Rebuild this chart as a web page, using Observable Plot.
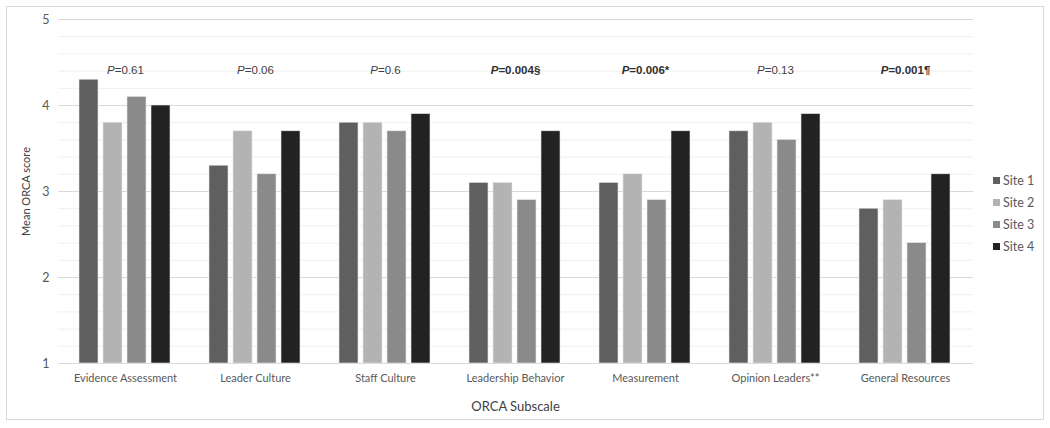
<!DOCTYPE html>
<html>
<head>
<meta charset="utf-8">
<script src="https://cdn.jsdelivr.net/npm/d3@7"></script>
<script src="https://cdn.jsdelivr.net/npm/@observablehq/plot@0.6"></script>
<style>
  html, body { margin: 0; padding: 0; background: #fff; }
  #box { position: absolute; left: 6px; top: 6px; width: 1036px; height: 412px; border: 1px solid #d9d9d9; background: #fff; }
  #grid, #chart { position: absolute; left: 0; top: 0; }
  #legend { position: absolute; left: 986px; top: 162px; font-family: Lato, "Noto Sans", sans-serif; font-size: 12.5px; color: #595959; }
  #legend .item { display: flex; align-items: center; height: 22px; }
  #legend .item span { color: #595959; }
  #legend .sw { width: 7px; height: 7px; margin-right: 3px; }
</style>
</head>
<body>
<div id="box"><div id="grid"></div><div id="chart"></div><div id="legend"></div></div>
<script>
const categories = ["Evidence Assessment", "Leader Culture", "Staff Culture", "Leadership Behavior", "Measurement", "Opinion Leaders**", "General Resources"];
const sites = ["Site 1", "Site 2", "Site 3", "Site 4"];
const site1 = [4.3, 3.3, 3.8, 3.1, 3.1, 3.7, 2.8];
const site2 = [3.8, 3.7, 3.8, 3.1, 3.2, 3.8, 2.9];
const site3 = [4.1, 3.2, 3.7, 2.9, 2.9, 3.6, 2.4];
const site4 = [4.0, 3.7, 3.9, 3.7, 3.7, 3.9, 3.2];
const pLabels = ["P=0.61", "P=0.06", "P=0.6", "P=0.004§", "P=0.006*", "P=0.13", "P=0.001¶"];
const pBold = [false, false, false, true, true, false, true];
const siteColors = ["#5f5f5f", "#b3b3b3", "#8a8a8a", "#222222"];
const yTicks = [1, 2, 3, 4, 5];
const minorTicks = [1.2, 1.4, 1.6, 1.8, 2.2, 2.4, 2.6, 2.8, 3.2, 3.4, 3.6, 3.8, 4.2, 4.4, 4.6, 4.8];

const seriesValues = [site1, site2, site3, site4];
const rows = [];
categories.forEach((c, i) => sites.forEach((s, j) => rows.push({cat: c, site: s, value: seriesValues[j][i]})));
const pRows = categories.map((c, i) => ({cat: c, text: pLabels[i], bold: pBold[i]}));

const W = 1036, H = 412;
const margins = {marginLeft: 51, marginRight: 70, marginTop: 12, marginBottom: 56};

// background gridlines spanning the whole plot area (same y scale)
const grid = Plot.plot({
  width: W, height: H, ...margins,
  style: {background: "transparent"},
  y: {domain: [1, 5], axis: null},
  marks: [
    Plot.ruleY(minorTicks, {y: d => d, stroke: "#efefef", strokeWidth: 1}),
    Plot.ruleY(yTicks, {y: d => d, stroke: "#d9d9d9", strokeWidth: 1})
  ]
});
document.getElementById("grid").appendChild(grid);

const chart = Plot.plot({
  width: W, height: H, ...margins,
  style: {fontFamily: "Lato, 'Noto Sans', sans-serif", fontSize: "11px", color: "#595959", background: "transparent"},
  fx: {domain: categories, paddingInner: 0.29, paddingOuter: 0.14, label: null},
  x: {domain: sites, paddingInner: 0.2, paddingOuter: 0, axis: null},
  y: {domain: [1, 5], axis: null},
  color: {domain: sites, range: siteColors},
  marks: [
    Plot.barY(rows, {fx: "cat", x: "site", y1: 1, y2: "value", fill: "site", stroke: "#e6e6e6", strokeWidth: 0.6}),
    Plot.text(pRows.filter(d => !d.bold), {fx: "cat", text: "text", frameAnchor: "top", dy: 46, fontFamily: "'Liberation Sans', Arial, sans-serif", fontSize: 11.5, fill: "#404040"}),
    Plot.text(pRows.filter(d => d.bold), {fx: "cat", text: "text", frameAnchor: "top", dy: 46, fontFamily: "'Liberation Sans', Arial, sans-serif", fontSize: 11.5, fontWeight: "bold", fill: "#303030"}),
    Plot.axisY({ticks: yTicks, tickSize: 0, tickPadding: 30, tickFormat: d => String(d), fontSize: 12.5, label: "Mean ORCA score", labelAnchor: "center", labelOffset: 57, labelArrow: false}),
    Plot.axisFx({anchor: "bottom", tickSize: 0, tickPadding: 11, label: "ORCA Subscale", labelAnchor: "center", labelOffset: 47, labelArrow: false, fontSize: 11})
  ]
});
document.getElementById("chart").appendChild(chart);

// italic P in the p-value labels
d3.select(chart).selectAll("text").each(function() {
  const t = this.textContent;
  if (/^P=/.test(t) && this.childElementCount === 0) {
    const el = d3.select(this);
    el.text(null);
    el.append("tspan").attr("font-style", "italic").text("P");
    el.append("tspan").text(t.slice(1));
  }
});
// axis title size
d3.select(chart).selectAll("text").filter(function() { return this.textContent === "ORCA Subscale" || this.textContent === "Mean ORCA score"; })
  .attr("font-size", function() { return this.textContent === "ORCA Subscale" ? 13 : 11; }).attr("fill", "#404040");

const legend = d3.select("#legend");
sites.forEach((s, i) => {
  const item = legend.append("div").attr("class", "item");
  item.append("div").attr("class", "sw").style("background", siteColors[i]);
  item.append("span").text(s);
});
</script>
</body>
</html>
